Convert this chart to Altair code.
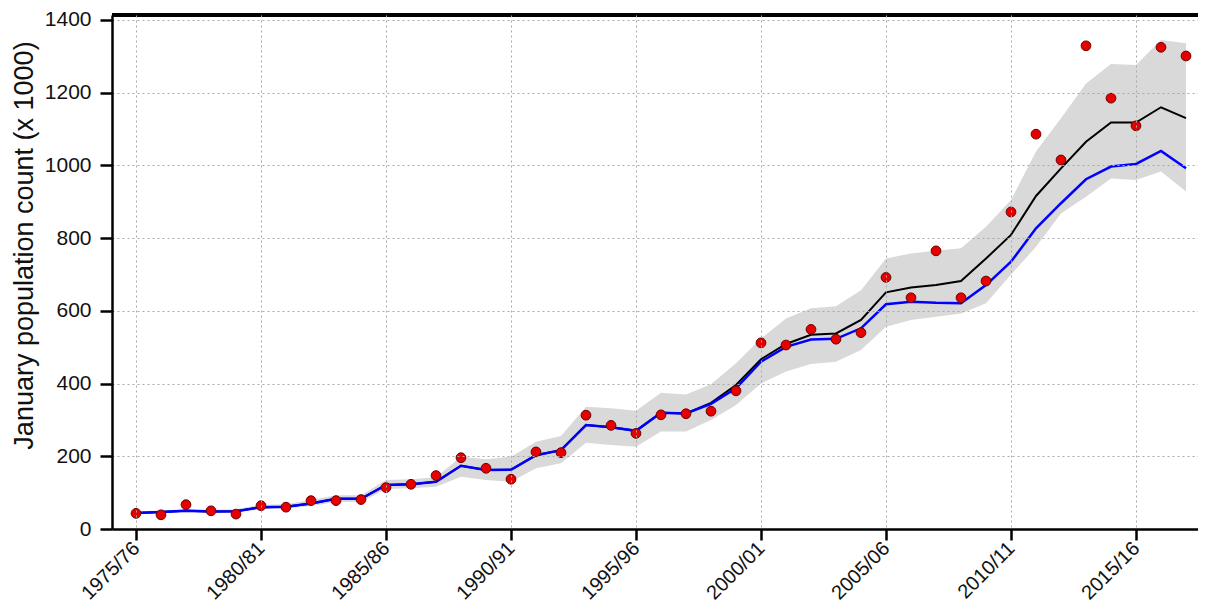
import altair as alt
import pandas as pd

seasons = list(range(1975, 2018))
counts = [43, 39, 67, 50, 41, 64, 60, 78, 78, 81, 114, 123, 147, 196, 167, 137, 212, 210,
          313, 285, 263, 314, 317, 324, 380, 512, 506, 549, 522, 540, 692, 636, 765, 636,
          682, 872, 1086, 1015, 1329, 1185, 1109, 1325, 1301]
model_black = [44, 47, 50, 48, 49, 60, 61, 70, 83, 83, 121, 123, 130, 174, 162, 163, 203, 217,
               286, 280, 270, 320, 318, 347, 396, 467, 509, 534, 538, 575, 651, 664, 671, 682,
               744, 809, 916, 992, 1065, 1118, 1118, 1160, 1130]
model_blue = [44, 47, 50, 48, 49, 60, 61, 70, 83, 83, 121, 123, 130, 174, 162, 163, 203, 217,
              286, 280, 270, 320, 318, 344, 387, 460, 501, 521, 523, 552, 618, 625, 622, 621,
              671, 735, 827, 896, 962, 997, 1004, 1040, 992]
band_low = [40, 43, 46, 44, 45, 55, 56, 63, 74, 74, 110, 112, 116, 144, 135, 130, 167, 181,
            237, 231, 226, 268, 268, 300, 341, 400, 433, 454, 460, 492, 556, 575, 584, 593,
            621, 700, 776, 868, 914, 964, 960, 983, 928]
band_high = [48, 51, 55, 53, 54, 67, 68, 80, 93, 93, 135, 137, 142, 199, 192, 199, 240, 256,
             336, 332, 325, 375, 370, 398, 456, 524, 579, 607, 613, 657, 744, 758, 765, 772,
             831, 905, 1038, 1130, 1225, 1279, 1276, 1345, 1336]

tick_years = [1975, 1980, 1985, 1990, 1995, 2000, 2005, 2010, 2015]
tick_labels = ["1975/76", "1980/81", "1985/86", "1990/91", "1995/96",
               "2000/01", "2005/06", "2010/11", "2015/16"]
y_ticks = [0, 200, 400, 600, 800, 1000, 1200, 1400]
y_title = "January population count  (x 1000)"

df = pd.DataFrame({
    "season": seasons, "count": counts, "black": model_black, "blue": model_blue,
    "lo": band_low, "hi": band_high,
})

label_expr = "".join(f"datum.value == {y} ? '{l}' : " for y, l in zip(tick_years, tick_labels)) + "''"

W, H = 1086, 514
x_scale = alt.Scale(domain=[1974.04, 1974.04 + W / 25], nice=False, zero=False)
y_scale = alt.Scale(domain=[0, 1413.75], nice=False)

x_axis = alt.Axis(values=tick_years, labelExpr=label_expr, title=None, grid=True,
                  gridDash=[2, 3], gridColor="#a8a8a8", gridWidth=1,
                  labelAngle=-45, labelAlign="right", labelBaseline="middle",
                  labelFontSize=20, labelPadding=5, labelColor="#111111",
                  tickSize=11, tickWidth=2.5, tickColor="black",
                  domainWidth=2.5, domainColor="black", zindex=1, labelOverlap=False)
y_axis = alt.Axis(values=y_ticks, format="d", title=y_title, grid=True,
                  gridDash=[2, 3], gridColor="#a8a8a8", gridWidth=1,
                  labelFontSize=21, labelPadding=9, labelColor="#111111",
                  tickSize=12, tickWidth=2.5, tickColor="black",
                  domainWidth=2.5, domainColor="black", zindex=1,
                  titleFontSize=27, titleFontWeight="normal", titleColor="#111111",
                  titleX=-88, titleY=230, titleAlign="center", titleBaseline="middle",
                  labelOverlap=False)

X = alt.X("season:Q", scale=x_scale, axis=x_axis)

band = alt.Chart(df).mark_area(color="#d9d9d9", opacity=1).encode(
    x=X, y=alt.Y("lo:Q", scale=y_scale, axis=y_axis), y2="hi:Q")
black = alt.Chart(df).mark_line(color="black", strokeWidth=2).encode(
    x=X, y=alt.Y("black:Q", scale=y_scale, axis=y_axis))
blue = alt.Chart(df).mark_line(color="#0000ff", strokeWidth=2.5).encode(
    x=X, y=alt.Y("blue:Q", scale=y_scale, axis=y_axis))
pts = alt.Chart(df).mark_circle(size=95, color="#e60000", opacity=1, stroke="#6e0000",
                                strokeWidth=1).encode(
    x=X, y=alt.Y("count:Q", scale=y_scale, axis=y_axis))
top = alt.Chart(df).mark_rule(color="black", strokeWidth=2.5).encode(
    x=alt.value(0), x2=alt.value(W), y=alt.value(0))

chart = alt.layer(band, black, blue, pts, top).properties(
    width=W, height=H,
    autosize=alt.AutoSizeParams(type="none"),
    padding={"left": 104, "top": 7, "right": 0, "bottom": 75},
).configure_view(stroke=None).configure(font="Liberation Sans")

chart.save("out.html", embed_options={"renderer": "svg", "actions": False})
